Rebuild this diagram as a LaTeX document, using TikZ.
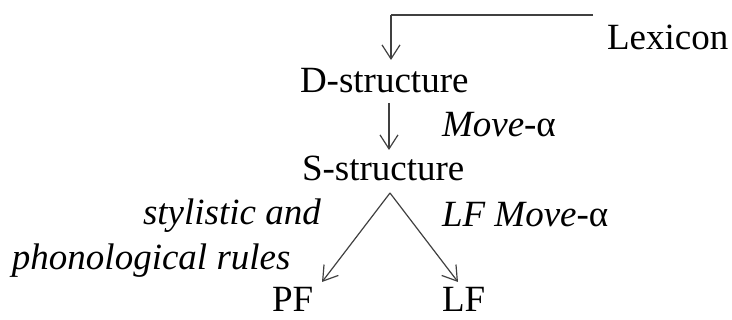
\documentclass[tikz,border=0pt]{standalone}
\usepackage{fontspec}
\setmainfont{Liberation Serif}
\usetikzlibrary{arrows.meta}
\begin{document}
\begin{tikzpicture}[x=1pt,y=1pt,
  lbl/.style={inner sep=0pt,outer sep=0pt,anchor=base west,font=\fontsize{37}{44}\selectfont},
  arr/.style={draw=black!75,line width=1.2pt,-{Straight Barb[length=14pt,width=18pt,line width=1.2pt]}},
  ln/.style={draw=black!75,line width=1.2pt}]
\useasboundingbox (0,0) rectangle (732,320);
\node[lbl] (lex) at (607,270) {Lexicon};
\node[lbl] (ds) at (300,227) {D-structure};
\node[lbl] (ss) at (302,139) {S-structure};
\node[lbl] (mv) at (442,183) {\textit{Move}-α};
\node[lbl] (pf) at (272,8) {PF};
\node[lbl] (lf) at (442,8) {LF};
\node[lbl] (sty) at (143,95) {\textit{stylistic and}};
\node[lbl] (pho) at (12,50) {\textit{phonological rules}};
\node[lbl] (lfm) at (442,93) {\textit{LF Move}-α};
\coordinate (lexend) at (593,305);
\coordinate (corner) at (391,305);
\coordinate (dtip) at (391,260);
\coordinate (dsbot) at (389,217);
\coordinate (sstip) at (389,170);
\coordinate (apex) at (390,127);
\coordinate (pftip) at (322,38);
\coordinate (lftip) at (458,38);
\draw[ln] (lexend) -- (corner);
\draw[arr] (corner) -- (dtip);
\draw[arr] (dsbot) -- (sstip);
\draw[arr] (apex) -- (pftip);
\draw[arr] (apex) -- (lftip);
\end{tikzpicture}
\end{document}
